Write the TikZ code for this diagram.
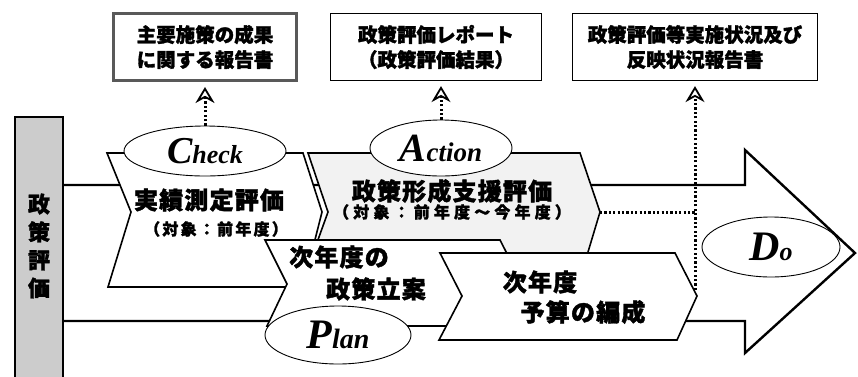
\documentclass[tikz,border=0pt]{standalone}
\usepackage{fontspec}
\newfontfamily\jpfont{Noto Sans CJK JP}[FakeBold=1.6]
\newfontfamily\pdcafont{Liberation Serif}
\usetikzlibrary{positioning}
\usetikzlibrary{arrows.meta}
\usetikzlibrary{shapes.geometric}

\newcommand*{\PDCA}[4]{{\pdcafont\bfseries\itshape\fontsize{#1}{#1}\selectfont #2\fontsize{#3}{#3}\selectfont #4}}

\tikzset{
  report/.style={draw, fill=white, line width=1.2pt, align=center,
    font=\jpfont\bfseries\fontsize{19.5}{25}\selectfont},
  phase/.style={ellipse, draw, fill=white, line width=0.9pt, inner sep=0pt},
  chev/.style={draw, line width=1.6pt, line join=miter},
  maintext/.style={inner sep=0pt, font=\jpfont\bfseries\fontsize{24}{24}\selectfont\addfontfeature{LetterSpace=5}},
  subtext/.style={inner sep=0pt, font=\jpfont\bfseries\fontsize{16}{16}\selectfont\addfontfeature{LetterSpace=#1}},
  subtext/.default=14,
  dotline/.style={line width=3pt, dash pattern=on 2.2pt off 2.2pt},
  feed/.style={dotline, shorten >=5pt, -{Stealth[open,length=16pt,width=19pt,line width=1.8pt,sep=0pt]}},
}

\begin{document}
\begin{tikzpicture}[x=1pt, y=-1pt]
\useasboundingbox (0,0) rectangle (858,376);

% Big arrow
\draw[line width=2.4pt, fill=white, line join=miter]
  (63,185) -- (745,185) -- (745,150) -- (855,253) -- (745,353) -- (745,321) -- (63,321);

% Evaluation bar
\node[draw,
    fill=black!20,
    line width=1.4pt,
    minimum width=48pt,
    minimum height=266pt,
    inner sep=0pt
] (evalbar) at (39,250) {};
\node[align=center,
    inner sep=0pt,
    font=\jpfont\bfseries\fontsize{22}{28}\selectfont
] (evaltext) at (39,246) {政\\策\\評\\価};

% Chevrons
\draw[chev, fill=white] (107,153) -- (303,153) -- (322,212) -- (303,287) -- (108,287) -- (131,212) -- cycle;
\draw[chev, fill=black!5] (308,153) -- (580,153) -- (600,212) -- (585,262) -- (310,262) -- (328,212) -- cycle;
\coordinate (actiontip) at (600,212);
\draw[chev, fill=white] (265,240) -- (500,240) -- (522,283) -- (500,326) -- (267,326) -- (287,284) -- cycle;
\draw[chev, fill=white] (440,253) -- (675,253) -- (697,296) -- (677,340) -- (439,340) -- (462,296) -- cycle;
\coordinate (budgetedge) at (695,290);

% Texts on the chevrons
\node[maintext] (checkmain) at (209,200) {実績測定評価};
\node[subtext] (checksub) at (216,229) {（対象：前年度）};
\node[maintext] (actionmain) at (452,191) {政策形成支援評価};
\node[subtext=26] (actionsub) at (452,212) {（対象：前年度～今年度）};
\node[maintext] (planmain) at (339,257) {次年度の};
\node[maintext] (plansub) at (376,289) {政策立案};
\node[maintext] (budgetmain) at (540,282) {次年度};
\node[maintext] (budgetsub) at (583,312) {予算の編成};

% PDCA ellipses
\node[phase, minimum width=162pt, minimum height=50pt] (check) at (205,151) {\PDCA{38}{C}{26}{heck}};
\node[phase, minimum width=142pt, minimum height=56pt] (action) at (441,148) {\PDCA{40}{A}{27}{ction}};
\node[phase, minimum width=146pt, minimum height=58pt] (plan) at (338,335) {\PDCA{42}{P}{28}{lan}};
\node[phase, minimum width=138pt, minimum height=60pt] (Do) at (771,247) {\PDCA{42}{D}{26}{o}};

% Reports
\node[report,
    line width=3pt,
    draw=black!65,
    minimum width=183pt,
    minimum height=67pt
] (mainreport) at (205,47) {主要施策の成果\\に関する報告書};
\node[report,
    minimum width=211pt,
    minimum height=67pt
] (evalreport) at (436,47) {政策評価レポート\\（政策評価結果）};
\node[report,
    minimum width=245pt,
    minimum height=67pt
] (statusreport) at (695,47) {政策評価等実施状況及び\\反映状況報告書};

% Feedback
\draw[feed] (check.north) -- (mainreport.south);
\draw[feed] (action.north) -- (action.north |- evalreport.south);
\draw[feed] (budgetedge) -- (budgetedge |- statusreport.south);
\draw[dotline] (actiontip) -- (actiontip -| budgetedge);
\end{tikzpicture}
\end{document}
